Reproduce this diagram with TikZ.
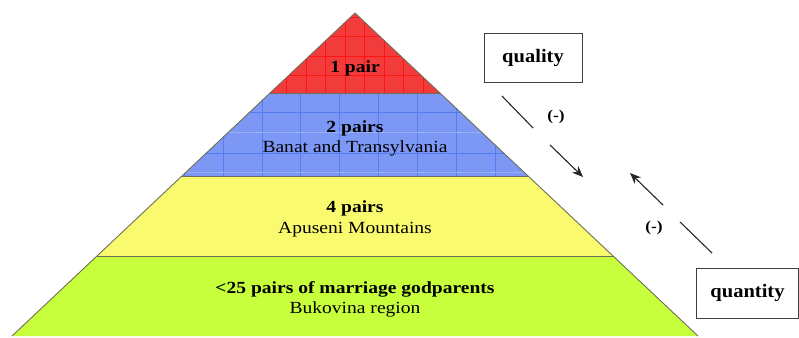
\documentclass[tikz,border=0pt]{standalone}
\usepackage{fontspec}
\setmainfont{Liberation Serif}
\newfontfamily\lblfont[FakeStretch=1.15]{Liberation Serif}
\newfontfamily\boxfont[FakeStretch=1.08]{Liberation Serif}
\usetikzlibrary{arrows.meta}
\definecolor{redfill}{RGB}{242,60,60}
\definecolor{redgrid}{RGB}{255,20,20}
\definecolor{bluefill}{RGB}{124,152,244}
\definecolor{bluegrid}{RGB}{85,125,240}
\definecolor{yellowfill}{RGB}{250,250,110}
\definecolor{greenfill}{RGB}{200,255,60}
\definecolor{edgegray}{RGB}{110,110,90}
\begin{document}
\begin{tikzpicture}[x=1pt,y=-1pt,
  layer/.style={draw=edgegray,line width=0.9pt},
  lbl/.style={font=\lblfont\fontsize{17}{19}\selectfont,anchor=base,inner sep=0pt},
  lblb/.style={font=\lblfont\bfseries\fontsize{17}{19}\selectfont,anchor=base,inner sep=0pt},
  labelbox/.style={draw=black!75,line width=1pt,fill=white,minimum width=98pt,minimum height=48pt,font=\boxfont\bfseries\fontsize{19}{21}\selectfont,inner sep=0pt},
  flow/.style={line width=1.1pt,black!85},
  minus/.style={font=\lblfont\bfseries\fontsize{15}{17}\selectfont,inner sep=0pt}]
\useasboundingbox (0,0) rectangle (799,337);
% pyramid coordinates
\coordinate (apex) at (355,13);
\coordinate (rl) at (270,93);  \coordinate (rr) at (440,93);
\coordinate (bl) at (182,176); \coordinate (br) at (528,176);
\coordinate (yl) at (97,256);  \coordinate (yr) at (613,256);
\coordinate (gl) at (12,336);  \coordinate (gr) at (698,336);
% green layer
\fill[greenfill] (yl) -- (yr) -- (gr) -- (gl) -- cycle;
% yellow layer
\fill[yellowfill] (bl) -- (br) -- (yr) -- (yl) -- cycle;
% blue layer with grid
\fill[bluefill] (rl) -- (rr) -- (br) -- (bl) -- cycle;
\begin{scope}
  \clip (rl) -- (rr) -- (br) -- (bl) -- cycle;
  \foreach \x in {184,223,262,300,339,378,417,456,495} \draw[bluegrid,line width=0.7pt] (\x,90) -- (\x,180);
  \foreach \y in {112,153} \draw[bluegrid,line width=0.7pt] (170,\y) -- (540,\y);
  \foreach \y in {132,172} \draw[bluegrid!60,line width=0.4pt] (170,\y) -- (540,\y);
\end{scope}
% red layer with grid
\fill[redfill] (apex) -- (rr) -- (rl) -- cycle;
\begin{scope}
  \clip (apex) -- (rr) -- (rl) -- cycle;
  \foreach \x in {267,286,306,325,345,364,384,403,423} \draw[redgrid,line width=0.6pt] (\x,10) -- (\x,95);
  \foreach \y in {17,36,56,75} \draw[redgrid,line width=0.6pt] (260,\y) -- (450,\y);
\end{scope}
% outlines
\draw[layer] (apex) -- (gr);
\draw[layer] (apex) -- (gl);
\draw[layer] (rl) -- (rr);
\draw[layer] (bl) -- (br);
\draw[layer] (yl) -- (yr);
% texts
\node[lblb] (t1) at (355,72) {1 pair};
\node[lblb] (t2) at (355,132) {2 pairs};
\node[lbl]  (t2b) at (355,152) {Banat and Transylvania};
\node[lblb] (t3) at (355,212) {4 pairs};
\node[lbl]  (t3b) at (355,233) {Apuseni Mountains};
\node[lblb] (t4) at (355,293) {<25 pairs of marriage godparents};
\node[lbl]  (t4b) at (355,313) {Bukovina region};
% boxes
\node[labelbox] (quality) at (533,58) {quality};
\node[labelbox,minimum width=102pt,minimum height=50pt] (quantity) at (747.5,293) {quantity};
% connectors
\coordinate (qa1) at (502,96);  \coordinate (qa2) at (533,128);
\coordinate (qb1) at (550,145); \coordinate (qb2) at (583,177);
\coordinate (na1) at (712,253); \coordinate (na2) at (680,222);
\coordinate (nb1) at (663,205); \coordinate (nb2) at (630,173);
\draw[flow] (qa1) -- (qa2);
\draw[flow,-{Stealth[length=11pt,width=9pt]}] (qb1) -- (qb2);
\draw[flow] (na1) -- (na2);
\draw[flow,-{Stealth[length=11pt,width=9pt]}] (nb1) -- (nb2);
\node[minus] (m1) at (556,117) {(-)};
\node[minus] (m2) at (654,228) {(-)};
\end{tikzpicture}
\end{document}
